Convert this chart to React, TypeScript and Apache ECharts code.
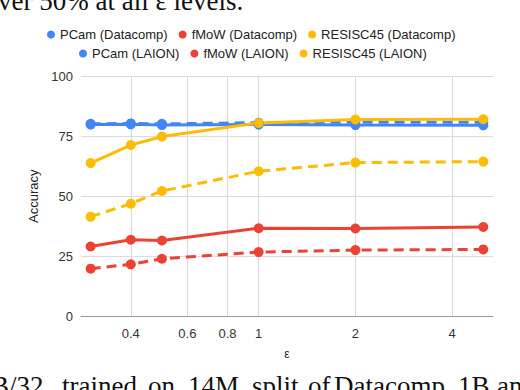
import React, { useEffect, useRef } from "react";
import * as echarts from "echarts";

const epsilons = [0.3, 0.4, 0.5, 1, 2, 5];
const xTickValues = [0.4, 0.6, 0.8, 1, 2, 4];

const pcamDatacomp = [79.8, 79.9, 79.6, 79.8, 79.6, 79.5];
const fmowDatacomp = [29.1, 31.9, 31.6, 36.7, 36.6, 37.2];
const resiscDatacomp = [63.8, 71.3, 74.8, 80.5, 81.9, 82.0];
const pcamLaion = [80.1, 80.3, 80.1, 80.6, 80.8, 80.8];
const fmowLaion = [19.9, 21.7, 24.0, 26.8, 27.6, 27.9];
const resiscLaion = [41.5, 46.9, 52.2, 60.4, 64.0, 64.4];

const topCaption = "ver 50% at all ε levels.";
const bottomWords = ["B/32", "trained", "on", "14M", "split", "of", "Datacomp", "1B", "and"];
const bottomWordX = [-9, 62, 148, 188, 252, 308, 334, 458, 497];

const BLUE = "#4285F4";
const RED = "#EA4335";
const YELLOW = "#FBBC04";

function mk(name: string, values: number[], color: string, dashed: boolean) {
  return {
    name,
    type: "line",
    data: epsilons.map((e, i) => [e, values[i]]),
    symbol: "circle",
    symbolSize: 10,
    showSymbol: true,
    itemStyle: { color },
    lineStyle: { color, width: 3, type: dashed ? [10, 6] : "solid" },
    emphasis: { disabled: true },
  };
}

export default function App() {
  const ref = useRef<HTMLDivElement>(null);
  useEffect(() => {
    if (!ref.current) return;
    const chart = echarts.init(ref.current, null, { renderer: "svg" });
    const font = "Arial, 'Liberation Sans', sans-serif";
    const serif = "27px 'Liberation Serif', 'Times New Roman', serif";
    chart.setOption({
      animation: false,
      backgroundColor: "#ffffff",
      textStyle: { fontFamily: font },
      legend: [
        {
          data: ["PCam (Datacomp)", "fMoW (Datacomp)", "RESISC45 (Datacomp)"],
          left: 47,
          top: 28,
          padding: 0,
          icon: "circle",
          itemWidth: 8,
          itemHeight: 8,
          itemGap: 11,
          textStyle: { fontSize: 13, color: "#222", fontFamily: font },
        },
        {
          data: ["PCam (LAION)", "fMoW (LAION)", "RESISC45 (LAION)"],
          left: 79,
          top: 47,
          padding: 0,
          icon: "circle",
          itemWidth: 8,
          itemHeight: 8,
          itemGap: 11,
          textStyle: { fontSize: 13, color: "#222", fontFamily: font },
        },
      ],
      grid: { left: 81, right: 27, top: 76, bottom: 73.5 },
      xAxis: {
        type: "log",
        logBase: 2,
        min: 0.28,
        max: 5.36,
        name: "ε",
        nameLocation: "middle",
        nameGap: 31,
        nameTextStyle: { fontSize: 12, color: "#222", fontFamily: font },
        axisLine: { show: true, lineStyle: { color: "#999", width: 1 } },
        axisTick: { show: false, customValues: xTickValues },
        axisLabel: {
          customValues: xTickValues,
          fontSize: 13,
          color: "#333",
          margin: 10,
          formatter: (v: number) => String(+Number(v).toFixed(2)),
        },
        splitLine: { show: true, customValues: xTickValues, lineStyle: { color: "#d9d9d9", width: 1 } },
        minorSplitLine: { show: false },
      },
      yAxis: {
        type: "value",
        min: 0,
        max: 100,
        interval: 25,
        name: "Accuracy",
        nameLocation: "middle",
        nameGap: 32,
        nameTextStyle: { fontSize: 13, color: "#222", fontFamily: font },
        axisLine: { show: false },
        axisTick: { show: false },
        axisLabel: { fontSize: 13, color: "#333", margin: 8 },
        splitLine: { lineStyle: { color: "#dcdcdc", width: 1 } },
      },
      graphic: [
        {
          type: "text",
          left: -2,
          top: -13,
          style: { text: topCaption, font: serif, fill: "#111" },
        },
        ...bottomWords.map((w, i) => ({
          type: "text",
          left: bottomWordX[i],
          top: 372,
          style: { text: w, font: serif, fill: "#111" },
        })),
      ],
      series: [
        mk("PCam (LAION)", pcamLaion, BLUE, true),
        mk("fMoW (LAION)", fmowLaion, RED, true),
        mk("RESISC45 (LAION)", resiscLaion, YELLOW, true),
        mk("PCam (Datacomp)", pcamDatacomp, BLUE, false),
        mk("fMoW (Datacomp)", fmowDatacomp, RED, false),
        mk("RESISC45 (Datacomp)", resiscDatacomp, YELLOW, false),
      ],
    });
    return () => chart.dispose();
  }, []);
  return (
    <div
      ref={ref}
      style={{ position: "absolute", left: 0, top: 0, width: 520, height: 390, overflow: "hidden" }}
    />
  );
}
